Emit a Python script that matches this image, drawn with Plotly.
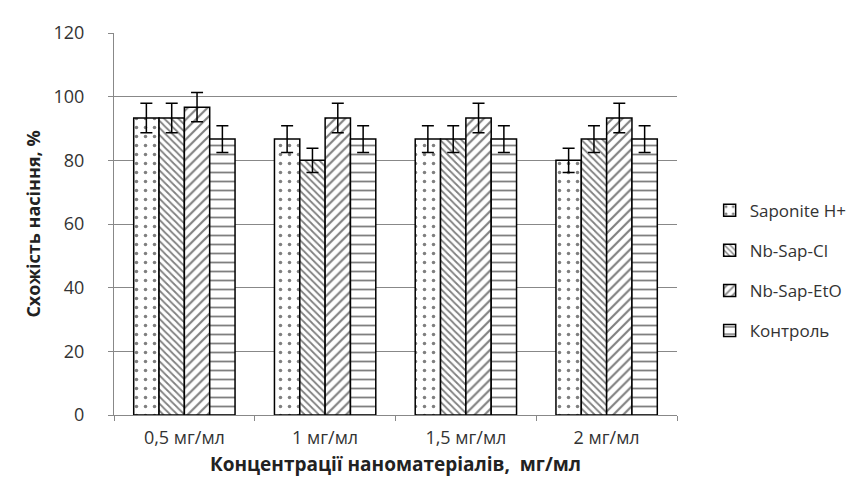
import plotly.graph_objects as go

categories = ["0,5 мг/мл", "1 мг/мл", "1,5 мг/мл", "2 мг/мл"]
series_names = ["Saponite H+", "Nb-Sap-Cl", "Nb-Sap-EtO", "Контроль"]
saponite = [93.3, 86.7, 86.7, 80.0]
nb_sap_cl = [93.3, 80.0, 86.7, 86.7]
nb_sap_eto = [96.7, 93.3, 93.3, 93.3]
control = [86.7, 86.7, 86.7, 86.7]
err_saponite = [4.6, 4.2, 4.2, 3.8]
err_nb_sap_cl = [4.6, 3.8, 4.2, 4.2]
err_nb_sap_eto = [4.6, 4.6, 4.6, 4.6]
err_control = [4.2, 4.2, 4.2, 4.2]
y_ticks = [0, 20, 40, 60, 80, 100, 120]

values = [saponite, nb_sap_cl, nb_sap_eto, control]
errors = [err_saponite, err_nb_sap_cl, err_nb_sap_eto, err_control]
patterns = [".", "\\", "/", "-"]
pat_size = [9, 5, 7, 9]
pat_sol = [0.12, 0.35, 0.3, 0.2]

fig = go.Figure()
for i, name in enumerate(series_names):
    fig.add_trace(go.Bar(
        x=categories, y=values[i], name=name, legendgroup=name,
        marker=dict(color="white",
                    line=dict(color="black", width=1.5),
                    pattern=dict(shape=patterns[i], fgcolor="black", bgcolor="white",
                                 size=pat_size[i], solidity=pat_sol[i])),
        error_y=dict(type="data", array=errors[i], color="black", thickness=1.5, width=6),
    ))

fam = "Open Sans, DejaVu Sans, sans-serif"
txt = "#333"
fig.update_layout(
    width=856, height=491,
    margin=dict(l=106, r=185, t=17, b=84),
    plot_bgcolor="white", paper_bgcolor="white",
    barmode="group", bargap=0.28, bargroupgap=0,
    font=dict(family=fam, size=17, color=txt),
    legend=dict(x=1.058, y=0.582, xanchor="left", yanchor="top",
                tracegroupgap=15, itemwidth=30,
                font=dict(family=fam, size=17, color=txt)),
    showlegend=True,
)
fig.update_xaxes(
    type="category", showline=True, linecolor="#888", linewidth=1,
    ticks="outside", tickson="boundaries", ticklen=5, tickcolor="#888",
    showgrid=False, ticklabelstandoff=6,
    title=dict(text="<b>Концентрації наноматеріалів,  мг/мл</b>", font=dict(size=19, family=fam, color="#222"), standoff=10),
    tickfont=dict(size=18, family=fam, color=txt),
)
fig.update_yaxes(
    range=[0, 120], tickvals=y_ticks, showline=True, linecolor="#888", linewidth=1,
    ticks="outside", ticklen=5, tickcolor="#888",
    showgrid=True, gridcolor="#888", gridwidth=1, zeroline=False,
    ticklabelstandoff=20,
    title=dict(text="<b>Схожість насіння, %</b>", font=dict(size=18, family=fam, color="#222"), standoff=8),
    tickfont=dict(size=18, family=fam, color=txt),
)
fig.write_html("out.html")
